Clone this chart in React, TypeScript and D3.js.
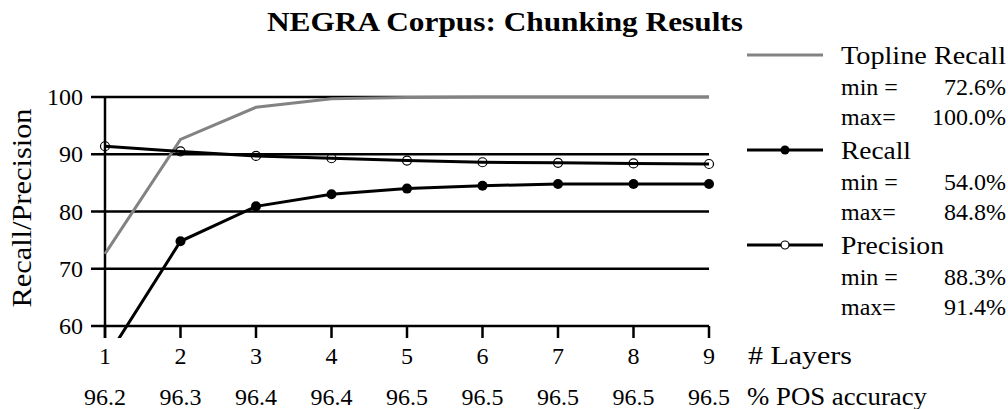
import React from "react";
import * as d3 from "d3";

const layers = [1, 2, 3, 4, 5, 6, 7, 8, 9];
const posAccuracy = ["96.2", "96.3", "96.4", "96.4", "96.5", "96.5", "96.5", "96.5", "96.5"];
const toplineRecall = [72.6, 92.6, 98.2, 99.7, 99.9, 100.0, 100.0, 100.0, 100.0];
const recall = [54.0, 74.8, 80.9, 83.0, 84.0, 84.5, 84.8, 84.8, 84.8];
const precision = [91.4, 90.5, 89.7, 89.3, 88.9, 88.6, 88.5, 88.4, 88.3];
const yTicks = [60, 70, 80, 90, 100];
const legendStats = [
  { name: "Topline Recall", min: "72.6%", max: "100.0%" },
  { name: "Recall", min: "54.0%", max: "84.8%" },
  { name: "Precision", min: "88.3%", max: "91.4%" },
];

const FONT = "'Liberation Serif', 'Times New Roman', serif";
const GRAY = "#838383";
const nameWidths = [165, 70, 103];

export default function App() {
  const x = d3.scaleLinear().domain([1, 9]).range([105, 709]);
  const y = d3.scaleLinear().domain([60, 100]).range([326, 97]);
  const line = d3
    .line<number>()
    .x((_, i) => x(layers[i]))
    .y((d) => y(d));

  const legendRows = [55, 87, 117, 150, 182, 212, 245, 277, 307];

  return (
    <svg width={1008} height={409} style={{ position: "absolute", left: 0, top: 0, fontFamily: FONT }}>
      <rect width={1008} height={409} fill="#fff" />
      <defs>
        <clipPath id="plotClip">
          <rect x={95} y={85} width={625} height={253} />
        </clipPath>
      </defs>
      {/* title */}
      <text x={505} y={31} textAnchor="middle" fontWeight="bold" fontSize={27} textLength={476} lengthAdjust="spacingAndGlyphs">
        NEGRA Corpus: Chunking Results
      </text>
      {/* gridlines */}
      {yTicks.map((t) => (
        <line key={t} x1={91} x2={709} y1={y(t)} y2={y(t)} stroke="#000" strokeWidth={2.5} />
      ))}
      {/* y axis */}
      <line x1={x(1)} x2={x(1)} y1={y(100)} y2={338} stroke="#000" strokeWidth={2.5} />
      {/* x ticks */}
      {layers.map((l) => (
        <line key={l} x1={x(l)} x2={x(l)} y1={y(60)} y2={338} stroke="#000" strokeWidth={2.5} />
      ))}
      {/* y tick labels */}
      {yTicks.map((t) => (
        <text key={t} x={83} y={y(t)} textAnchor="end" dominantBaseline="central" fontSize={24}>
          {t}
        </text>
      ))}
      {/* y label */}
      <text transform="translate(22,208) rotate(-90)" textAnchor="middle" dominantBaseline="central" fontSize={27} textLength={199} lengthAdjust="spacingAndGlyphs">
        Recall/Precision
      </text>
      {/* x tick labels */}
      {layers.map((l) => (
        <text key={l} x={x(l)} y={364} textAnchor="middle" fontSize={24}>
          {l}
        </text>
      ))}
      {posAccuracy.map((p, i) => (
        <text key={i} x={x(layers[i])} y={405} textAnchor="middle" fontSize={24}>
          {p}
        </text>
      ))}
      <text x={748} y={364} fontSize={25} textLength={104} lengthAdjust="spacingAndGlyphs">
        # Layers
      </text>
      <text x={747} y={405} fontSize={25} textLength={180} lengthAdjust="spacingAndGlyphs">
        % POS accuracy
      </text>
      {/* series */}
      <g clipPath="url(#plotClip)">
        <path d={line(toplineRecall) || ""} fill="none" stroke={GRAY} strokeWidth={3} />
        <path d={line(precision) || ""} fill="none" stroke="#000" strokeWidth={3} />
        <path d={line(recall) || ""} fill="none" stroke="#000" strokeWidth={3} />
        {recall.map((v, i) => (
          <circle key={"r" + i} cx={x(layers[i])} cy={y(v)} r={5} fill="#000" />
        ))}
        {precision.map((v, i) => (
          <circle key={"p" + i} cx={x(layers[i])} cy={y(v)} r={4.5} fill="none" stroke="#000" strokeWidth={1.2} />
        ))}
      </g>
      {/* legend */}
      <line x1={747} x2={823} y1={legendRows[0]} y2={legendRows[0]} stroke={GRAY} strokeWidth={3} />
      <line x1={747} x2={823} y1={legendRows[3]} y2={legendRows[3]} stroke="#000" strokeWidth={3} />
      <circle cx={785} cy={legendRows[3]} r={4.5} fill="#000" />
      <line x1={747} x2={823} y1={legendRows[6]} y2={legendRows[6]} stroke="#000" strokeWidth={3} />
      <circle cx={785} cy={legendRows[6]} r={4} fill="#fff" stroke="#000" strokeWidth={1.2} />
      {legendStats.map((s, k) => (
        <g key={s.name}>
          <text x={841} y={legendRows[k * 3]} dominantBaseline="central" fontSize={26} textLength={nameWidths[k]} lengthAdjust="spacingAndGlyphs">
            {s.name}
          </text>
          <text x={841} y={legendRows[k * 3 + 1]} dominantBaseline="central" fontSize={24}>
            min =
          </text>
          <text x={1006} y={legendRows[k * 3 + 1]} dominantBaseline="central" textAnchor="end" fontSize={24}>
            {s.min}
          </text>
          <text x={841} y={legendRows[k * 3 + 2]} dominantBaseline="central" fontSize={24}>
            max=
          </text>
          <text x={1006} y={legendRows[k * 3 + 2]} dominantBaseline="central" textAnchor="end" fontSize={24}>
            {s.max}
          </text>
        </g>
      ))}
    </svg>
  );
}
